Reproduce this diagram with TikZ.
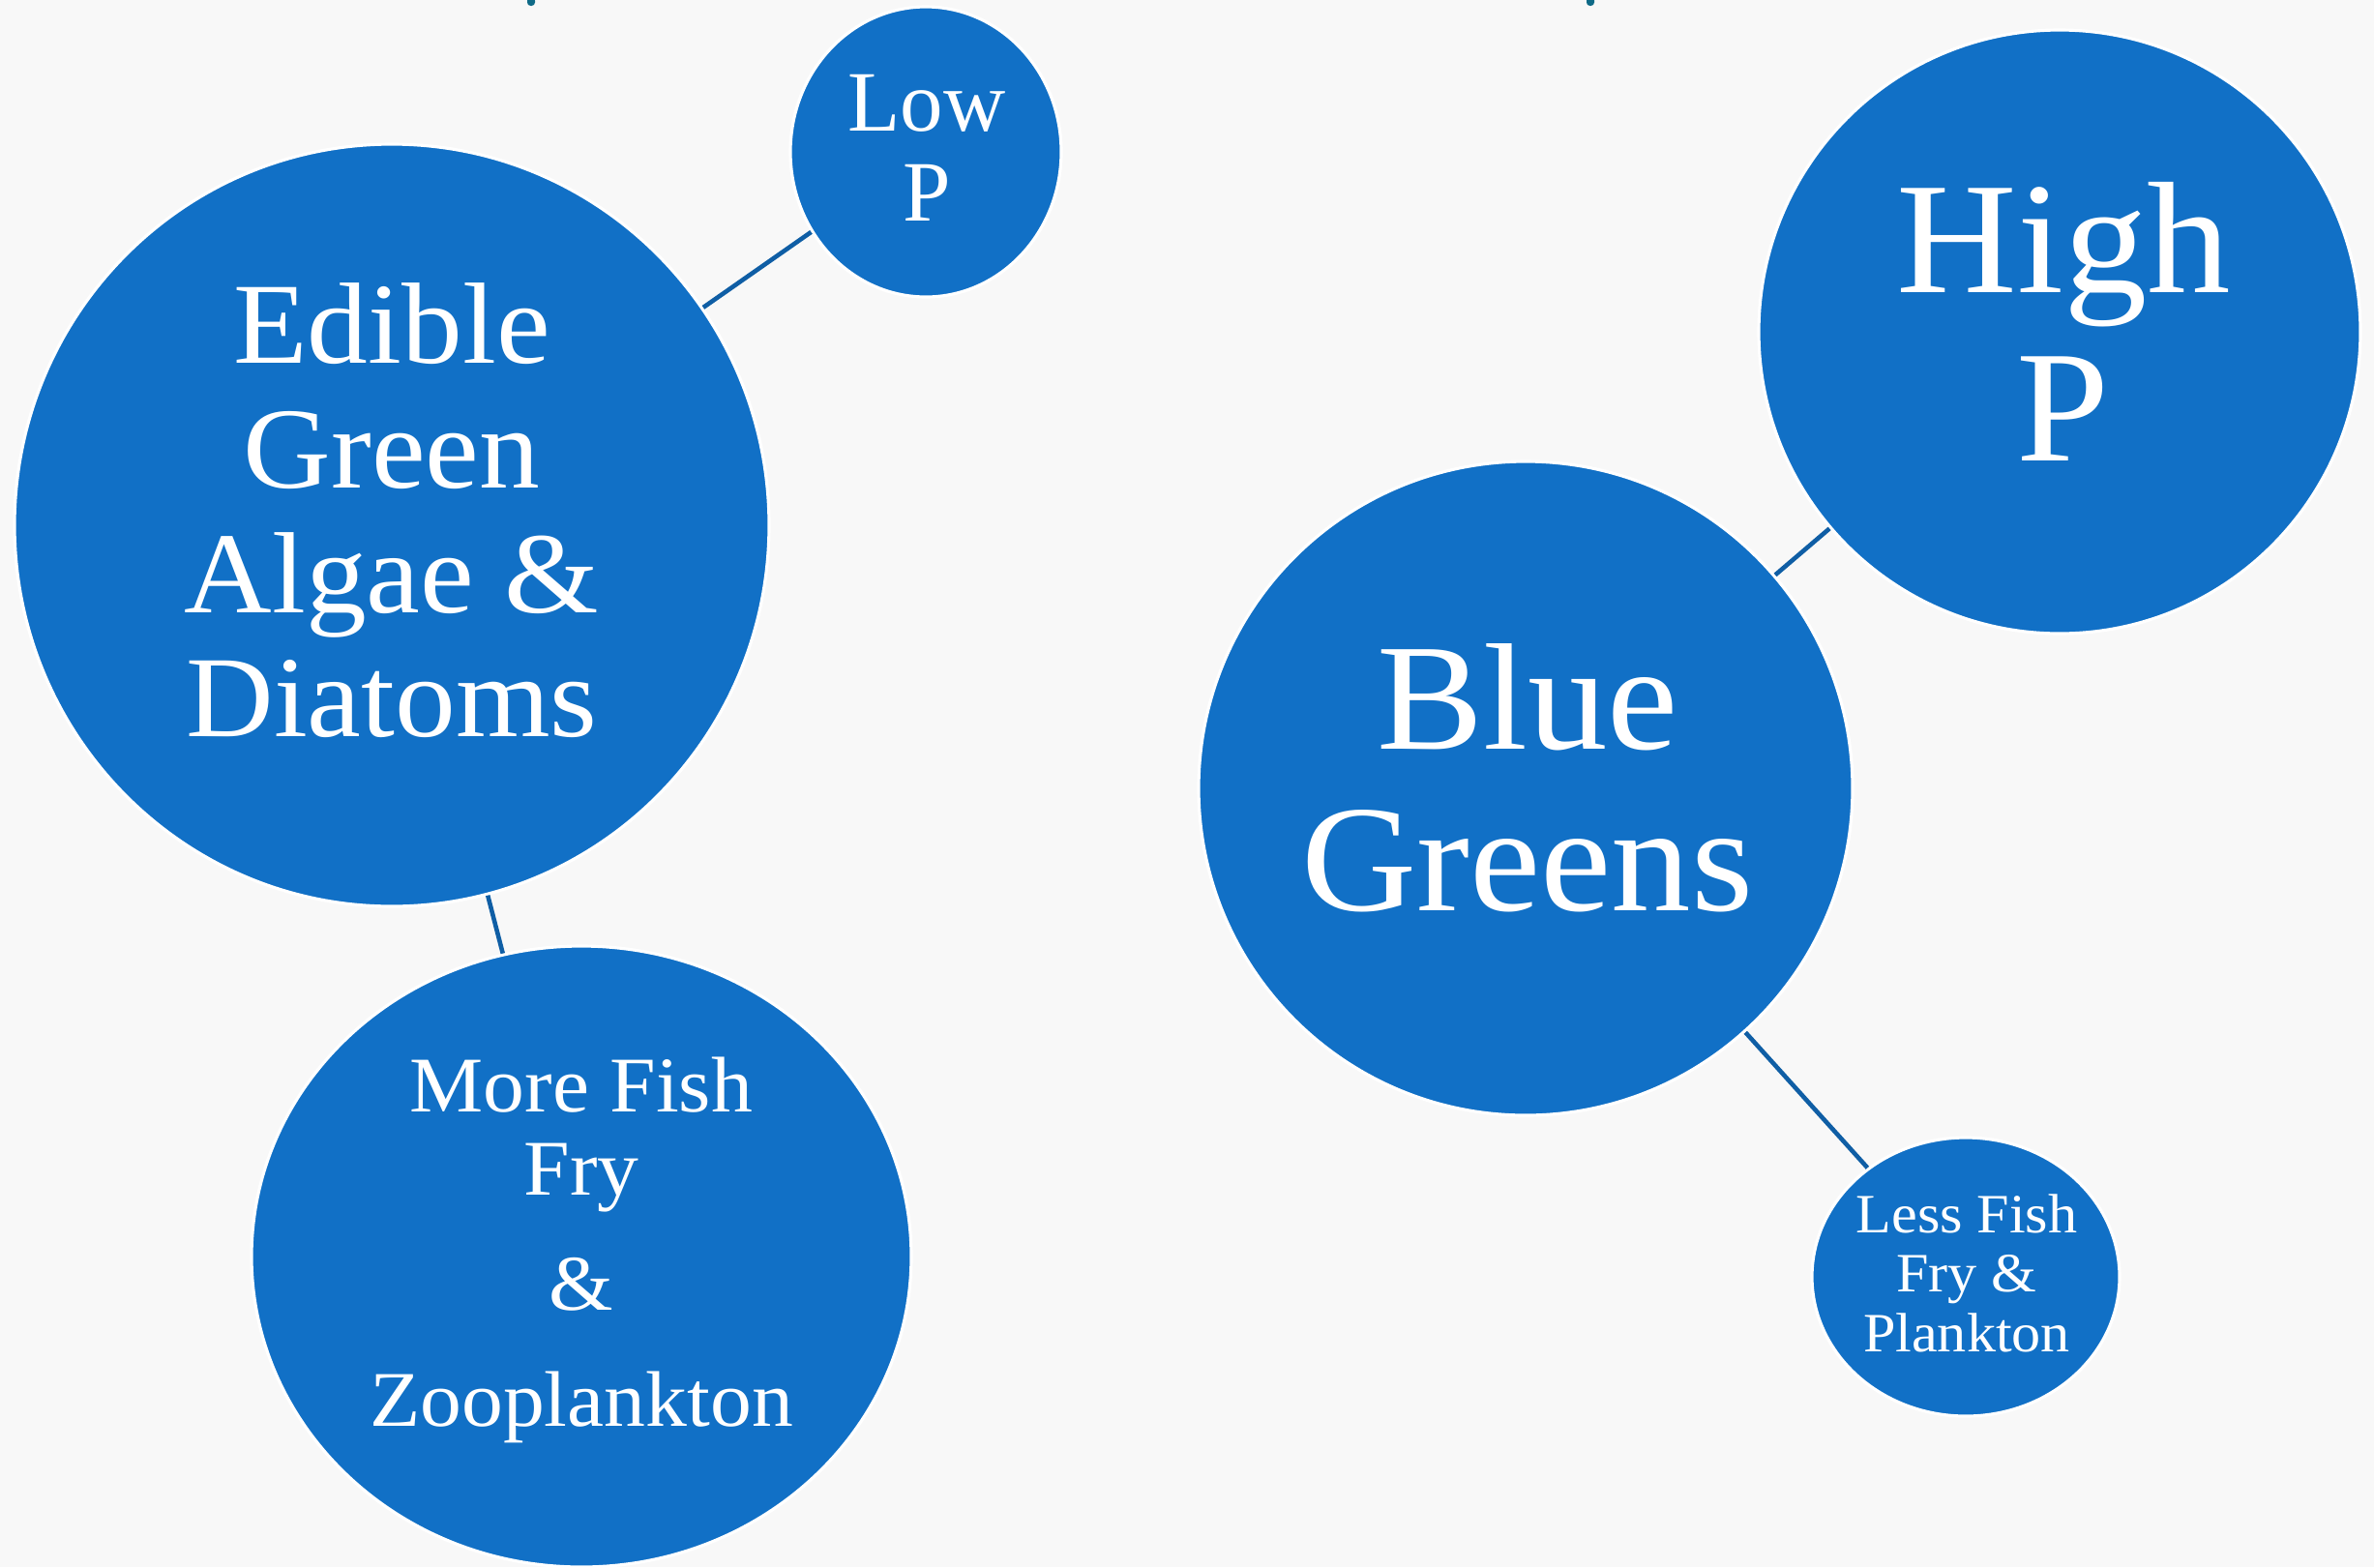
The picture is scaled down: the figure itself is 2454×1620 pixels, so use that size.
\documentclass[tikz,border=0pt]{standalone}
\usepackage{fontspec}
\setmainfont[FakeStretch=1.05]{Liberation Serif}
\newfontfamily\plainserif{Liberation Serif}
\usetikzlibrary{shapes,positioning}

\definecolor{bubblefill}{RGB}{17,112,198}
\definecolor{tieblue}{RGB}{15,94,165}
\definecolor{paper}{RGB}{248,248,248}
\definecolor{titleink}{RGB}{15,106,135}

\begin{document}
\begin{tikzpicture}[x=0.1mm,y=-0.1mm]

	\tikzstyle{blob}=[ellipse,fill=bubblefill,draw=white,line width=0.9pt,inner sep=0pt]
	\tikzstyle{words}=[text=white,align=center,inner sep=0pt]
	\tikzstyle{tie}=[draw=tieblue,line width=1.3pt]

	\fill[paper] (0,0) rectangle (2454,1620);
	\clip (0,0) rectangle (2454,1620);

	% bits of the cut-off title
	\fill[titleink,rounded corners=1pt] (545,-3) rectangle (553,6);
	\fill[titleink,rounded corners=1pt] (1640,-3) rectangle (1648,6);

	\node[blob,minimum width=78mm,minimum height=78.8mm](edible) at (405,543){};
	\node[blob,minimum width=28mm,minimum height=30mm](lowp) at (957,157){};
	\node[blob,minimum width=68.2mm,minimum height=64.2mm](morefish) at (601,1299){};
	\node[blob,minimum width=62.2mm,minimum height=62.4mm](highp) at (2129,343){};
	\node[blob,minimum width=67.6mm,minimum height=67.6mm](blue) at (1577,815){};
	\node[blob,minimum width=31.8mm,minimum height=28.8mm](lessfish) at (2032,1320){};

	\node[words,font=\fontsize{34}{36.6}\selectfont](edibletext) at (405,528){Edible\\Green\\Algae \&\\Diatoms};
	\node[words,font=\plainserif\fontsize{25.3}{26.5}\selectfont](lowptext) at (958,153){Low\\P};
	\node[words,font=\fontsize{23.2}{24.5}\selectfont](morefishtext) at (601,1292){More Fish\\Fry\\[9.5pt]\&\\[9.5pt]Zooplankton};
	\node[words,font=\fontsize{46.8}{49.5}\selectfont](highptext) at (2133,332){High\\P};
	\node[words,font=\fontsize{44.7}{47.5}\selectfont](bluetext) at (1579,804){Blue\\Greens};
	\node[words,font=\fontsize{16.3}{17.5}\selectfont](lessfishtext) at (2033,1316){Less Fish\\Fry \&\\Plankton};

	\draw[tie] (edible) -- (lowp);
	\draw[tie] (edible) -- (morefish);
	\draw[tie] (blue) -- (highp);
	\draw[tie] (blue) -- (lessfish);

\end{tikzpicture}
\end{document}
